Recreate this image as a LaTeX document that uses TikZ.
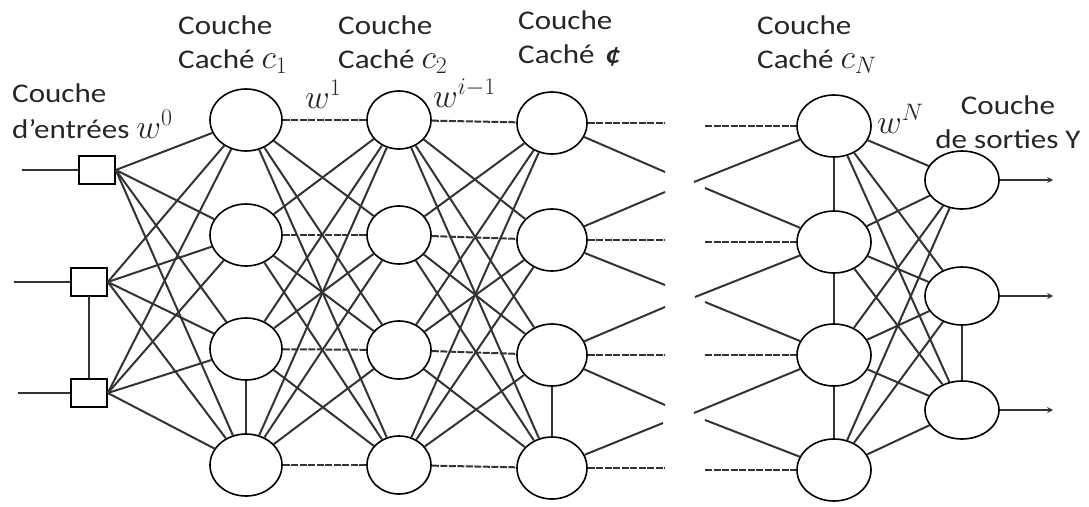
\RequirePackage{fix-cm}
\documentclass[tikz,border=0pt]{standalone}
\usepackage{fontspec}
\setmainfont{Carlito}[FakeStretch=1.15]
\usetikzlibrary{shapes.geometric}
\newcommand{\grand}[1]{{\fontsize{34}{34}\selectfont$#1$}}
\tikzset{
  neurone/.style={draw,ellipse,fill=white,line width=1.6pt,minimum width=72pt,minimum height=62pt,inner sep=0pt},
  entree/.style={draw,rectangle,fill=white,line width=1.6pt,minimum width=36pt,minimum height=28pt,inner sep=0pt},
  lien/.style={line width=2pt,black!80},
  tirets/.style={line width=2pt,black!80,dash pattern=on 7pt off 1.5pt},
  titre/.style={font=\fontsize{27}{34}\selectfont,align=left,anchor=base west,inner sep=0pt,text=black!85},
  poids/.style={font=\fontsize{34}{34}\selectfont,anchor=base west,inner sep=0pt,text=black!85}
}

\begin{document}
\begin{tikzpicture}[x=1pt,y=-1pt]
\useasboundingbox (0,0) rectangle (1089,506);

\node[entree] (e1) at (97,170) {};
\node[entree] (e2) at (89,282) {};
\node[entree] (e3) at (89,393) {};
\coordinate (x1) at (22,170);
\coordinate (x2) at (14,282);
\coordinate (x3) at (18,393);

\foreach \k/\y in {1/120,2/235,3/349,4/465} \node[neurone] (a\k) at (246,\y) {};
\foreach \k/\y in {1/120,2/235,3/350,4/465} \node[neurone,minimum width=64pt,minimum height=58pt] (b\k) at (399,\y) {};
\foreach \k/\y in {1/123,2/240,3/355,4/468} \node[neurone,minimum width=70pt] (c\k) at (552,\y) {};
\foreach \k/\y in {1/126,2/242,3/355,4/470} \node[neurone,minimum width=74pt] (n\k) at (834,\y) {};
\foreach \k/\y in {1/180,2/296,3/410} \node[neurone,minimum width=74pt,minimum height=58pt] (s\k) at (962,\y) {};

\foreach \k in {1,2,3} \draw[lien] (x\k) -- (e\k);
\foreach \i in {1,2,3} \foreach \j in {1,...,4} \draw[lien] (e\i.east) -- (a\j);
\foreach \i in {1,...,4} \foreach \j in {1,...,4} {
  \ifnum\i=\j
    \draw[tirets] (a\i) -- (b\j); \draw[tirets] (b\i) -- (c\j);
  \else
    \draw[lien] (a\i) -- (b\j); \draw[lien] (b\i) -- (c\j);
  \fi
}
\foreach \i in {1,...,4} \foreach \j in {1,2,3} \draw[lien] (n\i) -- (s\j);
\draw[lien] (e2) -- (e3);
\draw[lien] (a3) -- (a4);
\draw[lien] (c3) -- (c4);
\draw[lien] (n1) -- (n2);
\draw[lien] (n2) -- (n3);
\draw[lien] (n3) -- (n4);
\draw[lien] (s2) -- (s3);

\foreach \nom/\x/\y in {g1/665/172,g2/665/192,g3/665/285,g4/665/307,g5/665/405,g6/663/423,
  d1/694/182,d2/705/188,d3/695/297,d4/705/302,d5/694/413,d6/705/420}
  \coordinate (\nom) at (\x,\y);
\foreach \a/\b in {c1/g1,c2/g2,c2/g3,c3/g4,c3/g5,c4/g6,n1/d1,n2/d2,n2/d3,n3/d4,n3/d5,n4/d6}
  \draw[lien] (\a) -- (\b);
\foreach \k in {1,...,4} {
  \path (c\k.center) ++(113,0) coordinate (h\k);
  \path (n\k.center) ++(-129,0) coordinate (m\k);
  \draw[tirets] (c\k) -- (h\k);
  \draw[tirets] (m\k) -- (n\k);
}
\foreach \k in {1,2,3} {
  \path (s\k.center) ++(91,0) coordinate (y\k);
  \draw[lien,line width=1.6pt,-stealth] (s\k) -- (y\k);
}

\node[titre,font=\fontsize{27}{36}\selectfont] (lentree) at (12,138) {Couche\\d’entrées \grand{w^0}};
\node[titre] (lc1) at (178,68) {Couche\\Caché \grand{c_1}};
\node[titre] (lc2) at (338,68) {Couche\\Caché \grand{c_2}};
\node[titre] (lci) at (518,63) {Couche\\Caché\hspace{0.4em}{\bfseries\itshape ¢}};
\node[titre] (lcn) at (757,68) {Couche\\Caché \grand{c_N}};
\node[titre,align=center,anchor=base] (lsortie) at (1008,148) {Couche\\de sorties Y};
\node[poids] (w1) at (305,108) {$w^1$};
\node[poids] (wi) at (433,107) {$w^{i-1}$};
\node[poids] (wn) at (877,133) {$w^N$};
\end{tikzpicture}
\end{document}
